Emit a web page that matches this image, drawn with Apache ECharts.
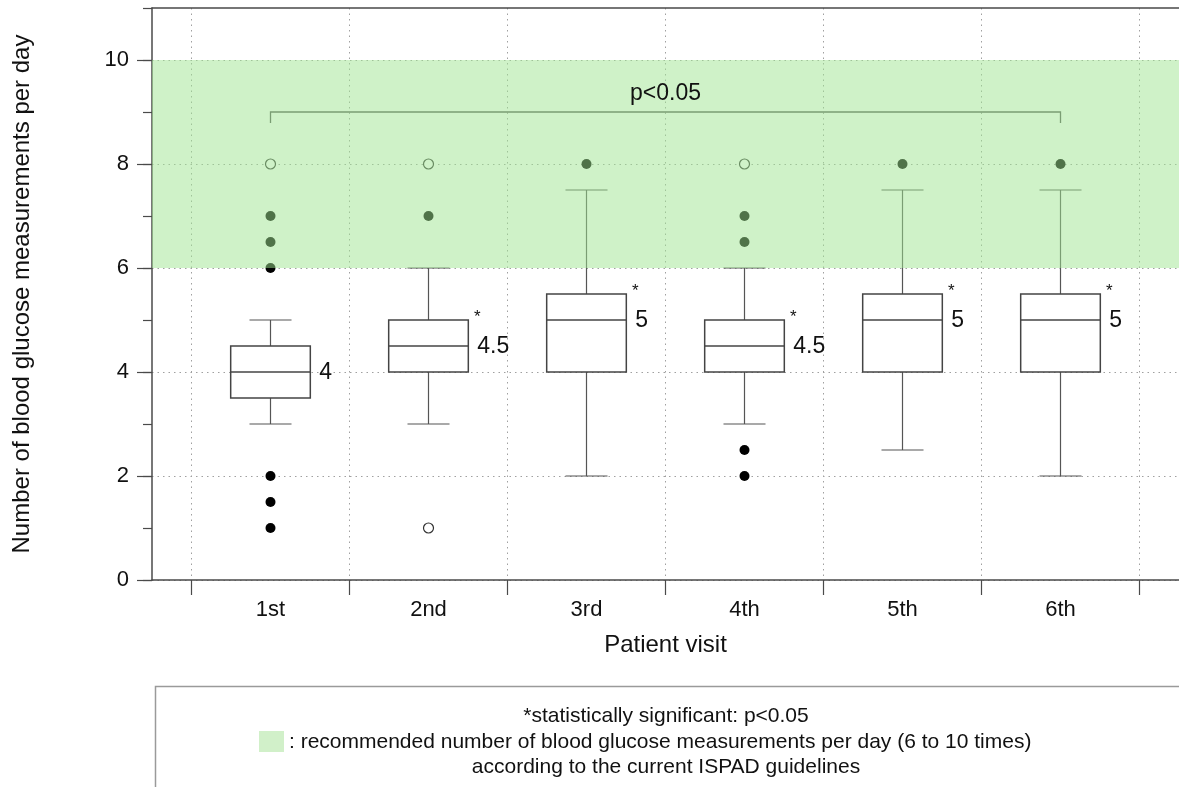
<!DOCTYPE html>
<html><head><meta charset="utf-8">
<script src="https://cdn.jsdelivr.net/npm/echarts@6/dist/echarts.min.js"></script>
<style>html,body{margin:0;padding:0;background:#fff}#c{width:1179px;height:787px}</style>
</head><body><div id="c"></div>
<script>
// ---- data ----
const visits = ['1st', '2nd', '3rd', '4th', '5th', '6th'];
const whiskerLow = [3, 3, 2, 3, 2.5, 2];
const q1 = [3.5, 4, 4, 4, 4, 4];
const median = [4, 4.5, 5, 4.5, 5, 5];
const q3 = [4.5, 5, 5.5, 5, 5.5, 5.5];
const whiskerHigh = [5, 6, 7.5, 6, 7.5, 7.5];
const outliersFilled = [[7, 6.5, 6, 2, 1.5, 1], [7], [8], [7, 6.5, 2.5, 2], [8], [8]];
const outliersOpen = [[8], [8, 1], [], [8], [], []];
const significant = [false, true, true, true, true, true];
const bandRange = [6, 10];
const bracketFrom = 1, bracketTo = 6, bracketY = 9, bracketLabel = 'p<0.05';
const yTickLabels = [0, 2, 4, 6, 8, 10];
const footLines = [
  '*statistically significant: p<0.05',
  ': recommended number of blood glucose measurements per day (6 to 10 times)',
  'according to the current ISPAD guidelines'
];

// ---- build ----
const FONT = '"Liberation Sans", Arial, Helvetica, sans-serif';
const boxData = visits.map((v, i) => [i + 1, whiskerLow[i], q1[i], median[i], q3[i], whiskerHigh[i], i]);
const filledPts = [], openPts = [];
outliersFilled.forEach((arr, i) => arr.forEach(v => filledPts.push([i + 1, v])));
outliersOpen.forEach((arr, i) => arr.forEach(v => openPts.push([i + 1, v])));
const xMin = 0.25, xMax = visits.length + 0.75;
const tickVals = visits.map((_, i) => i + 0.5).concat([visits.length + 0.5]);
const labelVals = visits.map((_, i) => i + 1);

function renderBox(params, api) {
  const x = api.value(0);
  const idx = api.value(6);
  const unit = api.size([1, 0])[0];
  const half = unit * 0.252, cap = unit * 0.133;
  const yLow = api.coord([x, api.value(1)])[1];
  const yQ1 = api.coord([x, api.value(2)])[1];
  const yMed = api.coord([x, api.value(3)])[1];
  const yQ3 = api.coord([x, api.value(4)])[1];
  const yHigh = api.coord([x, api.value(5)])[1];
  const cx = api.coord([x, 0])[0];
  const ws = { stroke: '#555', lineWidth: 1.2 };
  const children = [
    { type: 'line', shape: { x1: cx, y1: yQ3, x2: cx, y2: yHigh }, style: ws },
    { type: 'line', shape: { x1: cx, y1: yQ1, x2: cx, y2: yLow }, style: ws },
    { type: 'line', shape: { x1: cx - cap, y1: yHigh, x2: cx + cap, y2: yHigh }, style: ws },
    { type: 'line', shape: { x1: cx - cap, y1: yLow, x2: cx + cap, y2: yLow }, style: ws },
    { type: 'rect', shape: { x: cx - half, y: yQ3, width: 2 * half, height: yQ1 - yQ3 }, style: { fill: '#fff', stroke: '#444', lineWidth: 1.5 } },
    { type: 'line', shape: { x1: cx - half, y1: yMed, x2: cx + half, y2: yMed }, style: { stroke: '#444', lineWidth: 1.5 } },
    { type: 'text', style: { text: String(median[idx]), x: cx + half + 9, y: yMed + 1, verticalAlign: 'middle', textAlign: 'left', font: '23px ' + FONT, fill: '#111' } }
  ];
  if (significant[idx]) {
    children.push({ type: 'text', style: { text: '*', x: cx + half + 9, y: yQ3 - 3, verticalAlign: 'middle', textAlign: 'center', font: '17px ' + FONT, fill: '#111' } });
  }
  return { type: 'group', children };
}

function renderBand(params, api) {
  const cs = params.coordSys;
  const y1 = api.coord([1, api.value(1)])[1];
  const y0 = api.coord([1, api.value(0)])[1];
  return { type: 'rect', shape: { x: cs.x, y: y1, width: cs.width, height: y0 - y1 }, style: { fill: 'rgba(160,230,145,0.5)' } };
}

function renderBracket(params, api) {
  const a = api.coord([api.value(0), api.value(2)]);
  const b = api.coord([api.value(1), api.value(2)]);
  return { type: 'polyline', shape: { points: [[a[0], a[1] + 11], a, b, [b[0], b[1] + 11]] }, style: { stroke: '#555', lineWidth: 1.3, fill: null } };
}
function renderBracketLabel(params, api) {
  const a = api.coord([(api.value(0) + api.value(1)) / 2, api.value(2)]);
  return { type: 'text', style: { text: bracketLabel, x: a[0], y: a[1] - 7, textAlign: 'center', verticalAlign: 'bottom', font: '23px ' + FONT, fill: '#111' } };
}

const axisCol = '#4a4a4a';
const dotted = { color: '#a0a0a0', width: 1, type: [1.5, 4] };
const option = {
  animation: false,
  backgroundColor: '#fff',
  grid: { left: 152, top: 8, width: 1030, height: 572, containLabel: false },
  xAxis: [
    {
      type: 'value', min: xMin, max: xMax, position: 'bottom',
      name: 'Patient visit', nameLocation: 'middle', nameGap: 53,
      nameTextStyle: { fontSize: 24, fontFamily: FONT, color: '#111' },
      axisLine: { show: true, onZero: false, lineStyle: { color: axisCol, width: 1.5 } },
      axisTick: { show: true, length: 15, customValues: tickVals, lineStyle: { color: axisCol, width: 1.2 } },
      axisLabel: { customValues: labelVals, formatter: v => visits[Math.round(v) - 1] || '', margin: 19, fontSize: 22, fontFamily: FONT, color: '#111' },
      splitLine: { show: true, lineStyle: dotted }
    },
    {
      type: 'value', min: xMin, max: xMax, position: 'top',
      axisLine: { show: true, onZero: false, lineStyle: { color: axisCol, width: 1.5 } },
      axisTick: { show: false }, axisLabel: { show: false }, splitLine: { show: false }
    }
  ],
  yAxis: [
    {
      type: 'value', min: 0, max: 11, interval: 1, position: 'left',
      name: 'Number of blood glucose measurements per day', nameLocation: 'middle', nameGap: 118, nameRotate: 90,
      nameTextStyle: { fontSize: 24, fontFamily: FONT, color: '#111' },
      axisLine: { show: true, lineStyle: { color: axisCol, width: 1.5 } },
      axisTick: { show: true, length: 9, lineStyle: { color: axisCol, width: 1.2 } },
      axisLabel: { customValues: yTickLabels, margin: 23, fontSize: 22, fontFamily: FONT, color: '#111' },
      splitLine: { show: false }
    },
    {
      type: 'value', min: 0, max: 11, position: 'left', offset: 0,
      axisLine: { show: false },
      axisTick: { show: true, length: 15, customValues: yTickLabels, lineStyle: { color: axisCol, width: 1.2 } },
      axisLabel: { show: false },
      splitLine: { show: true, lineStyle: dotted }
    }
  ],
  series: [
    { type: 'custom', name: 'bracket', xAxisIndex: 0, yAxisIndex: 0, z: 2, silent: true, renderItem: renderBracket, data: [[bracketFrom, bracketTo, bracketY]] },
    { type: 'custom', name: 'box', xAxisIndex: 0, yAxisIndex: 0, z: 3, silent: true, renderItem: renderBox, data: boxData },
    { type: 'scatter', name: 'filled', xAxisIndex: 0, yAxisIndex: 0, z: 4, silent: true, symbol: 'circle', symbolSize: 10, itemStyle: { color: '#000', opacity: 1 }, data: filledPts },
    { type: 'scatter', name: 'open', xAxisIndex: 0, yAxisIndex: 0, z: 4, silent: true, symbol: 'circle', symbolSize: 10, itemStyle: { color: '#fff', borderColor: '#333', borderWidth: 1.2, opacity: 1 }, data: openPts },
    { type: 'custom', name: 'band', xAxisIndex: 0, yAxisIndex: 0, z: 6, silent: true, renderItem: renderBand, data: [[bandRange[0], bandRange[1]]] },
    { type: 'custom', name: 'bracketLabel', xAxisIndex: 0, yAxisIndex: 0, z: 7, silent: true, renderItem: renderBracketLabel, data: [[bracketFrom, bracketTo, bracketY]] }
  ],
  graphic: [
    { type: 'rect', left: 153, top: 684, shape: { width: 1100, height: 200 }, style: { fill: null, stroke: '#9a9a9a', lineWidth: 1.5 }, silent: true },
    { type: 'rect', left: 259, top: 731, shape: { width: 25, height: 21 }, style: { fill: '#d1f0c9' }, silent: true },
    { type: 'text', x: 666, y: 716, style: { text: footLines[0], textAlign: 'center', textVerticalAlign: 'middle', font: '21px ' + FONT, fill: '#111' } },
    { type: 'text', x: 289, y: 742, style: { text: footLines[1], textAlign: 'left', textVerticalAlign: 'middle', font: '21px ' + FONT, fill: '#111' } },
    { type: 'text', x: 666, y: 767, style: { text: footLines[2], textAlign: 'center', textVerticalAlign: 'middle', font: '21px ' + FONT, fill: '#111' } }
  ]
};
const chart = echarts.init(document.getElementById('c'), null, { renderer: 'canvas' });
chart.setOption(option);
</script></body></html>
